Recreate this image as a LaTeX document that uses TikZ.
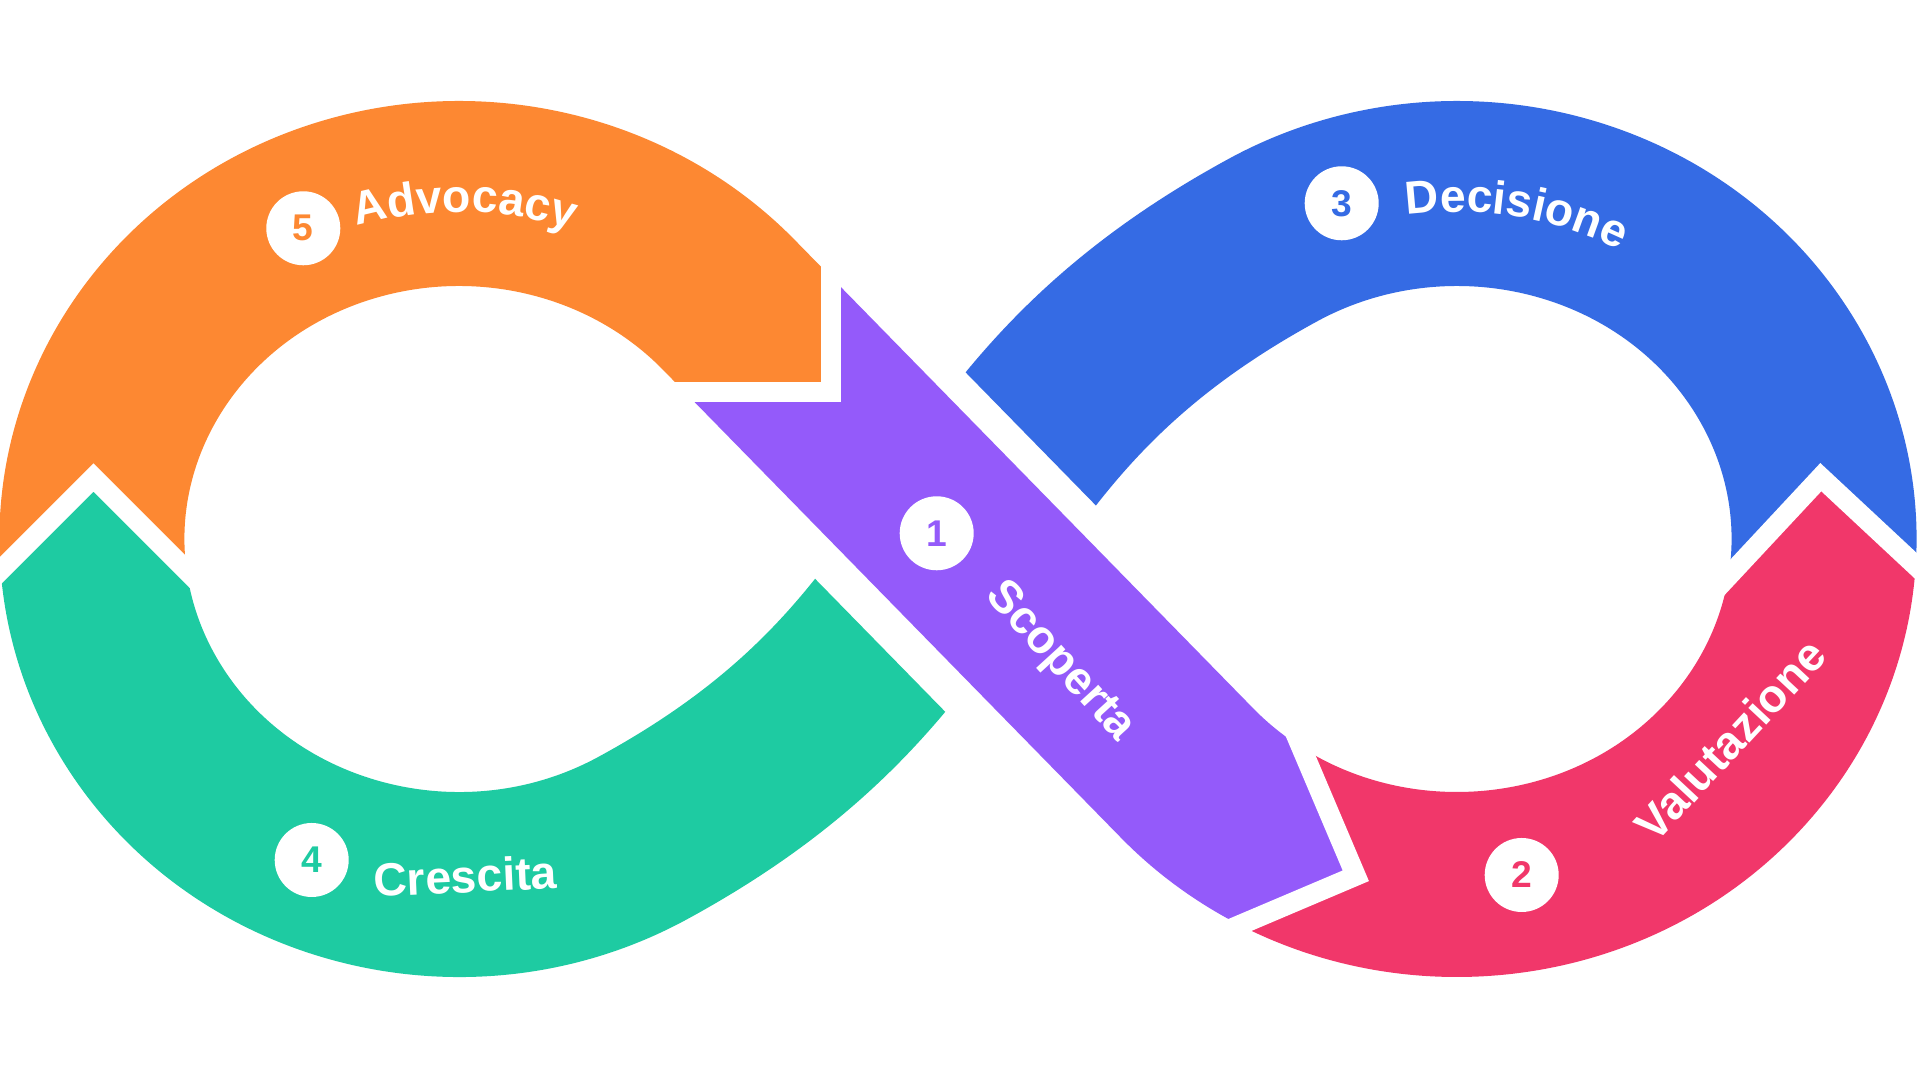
\documentclass[tikz,border=0pt]{standalone}
\usepackage{fontspec}
\setmainfont{Liberation Sans}
\usepackage{tikz}
\usetikzlibrary{calc}
\usetikzlibrary{decorations.text}
\definecolor{stageorange}{HTML}{FD8832}
\definecolor{stagepurple}{HTML}{945AFA}
\definecolor{stageblue}{HTML}{356BE4}
\definecolor{stagegreen}{HTML}{1ECBA2}
\definecolor{stagepink}{HTML}{F1376A}
\newcommand{\numfont}{\fontsize{9.3}{10}\selectfont\bfseries}
\newcommand{\stagefont}{\fontsize{11.6}{13}\selectfont\bfseries}
\tikzset{band/.style={line width=46.25pt}}
\tikzset{notch gap/.style={draw=white,line width=5pt}}
\tikzset{badge/.style={circle,fill=white,minimum size=18.5pt,inner sep=0pt,font=\numfont}}
\tikzset{stage label/.style={text=white,font=\stagefont,inner sep=0pt}}
% whole sheet, counter-clockwise
\newcommand{\canvas}{(-300,-300) -- (2220,-300) -- (2220,1380) -- (-300,1380) -- cycle}
% part behind a chevron (vertex #1, heading #2), clockwise
\newcommand{\behind}[2]{(#1) -- ($(#1)+({#2+225}:250)$) -- ($(#1)+({#2+180}:353.6)$) -- ($(#1)+({#2+135}:250)$) -- cycle}
% part ahead of a chevron, clockwise
\newcommand{\ahead}[2]{(#1) -- ($(#1)+({#2+135}:250)$) -- ($(#1)+({#2+135}:250)+(#2:400)$) -- ($(#1)+({#2+225}:250)+(#2:400)$) -- ($(#1)+({#2+225}:250)$) -- cycle}

\begin{document}
\begin{tikzpicture}
    [
      x=0.25pt, y=0.25pt,
      lobe/.style={x radius=367, y radius=345.5},
    ]
    \useasboundingbox (0,0) rectangle (1920,1080);
    \fill [white] (0,0) rectangle (1920,1080);

    % centres, joints and chevrons
    \coordinate (L) at (459,541);
    \coordinate (R) at (1457,541);
    \coordinate (T1) at ($(L)+(42.65:367 and 345.5)$);
    \coordinate (T2) at ($(R)+(222.65:367 and 345.5)$);
    \coordinate (RJ) at ($(R)+(120:367 and 345.5)$);
    \coordinate (LJ) at ($(L)+(300:367 and 345.5)$);
    \coordinate (J45) at (93.5,602.5);
    \coordinate (J51) at (831,687.5);
    \coordinate (J12) at (1355.8,204.2);
    \coordinate (J23) at (1820.8,602.8);
    \coordinate (Bcut) at ($(958,541)+(44.38:122)$);
    \coordinate (Gcut) at ($(958,541)+(224.38:130)$);

    % 5 advocacy
    \begin{scope}
      \clip \canvas \behind{J45}{90};
      \clip \canvas \ahead{J51}{-45};
      \draw [band,stageorange] ($(L)+(195:367 and 345.5)$) arc [start angle=195, end angle=42.65, lobe] -- ++(-45.62:300);
    \end{scope}

    % 1 scoperta
    \begin{scope}
      \clip \canvas \behind{J51}{-45};
      \clip \canvas \ahead{J12}{-22};
      \draw [band,stagepurple] (T1) -- (T2) arc [start angle=222.65, end angle=270, lobe];
    \end{scope}

    % 2 valutazione
    \begin{scope}
      \clip \canvas \behind{J12}{-22};
      \clip \canvas \ahead{J23}{92};
      \draw [band,stagepink] ($(R)+(230:367 and 345.5)$) arc [start angle=230, end angle=380, lobe];
    \end{scope}

    % 3 decisione
    \begin{scope}
      \clip \canvas \behind{J23}{92};
      \clip \canvas ($(Bcut)+(134.38:700)$) -- ($(Bcut)+(-45.62:700)$) |- (-300,-300) |- ($(Bcut)+(134.38:700)$) -- cycle;
      \draw [band,stageblue] ($(R)+(-15:367 and 345.5)$) arc [start angle=-15, end angle=120, lobe]
        .. controls ($(RJ)+(208.53:399)$) and ($(LJ)+(28.53:399)$) .. (LJ);
    \end{scope}

    % 4 crescita
    \begin{scope}
      \clip \canvas ($(Gcut)+(-45.62:700)$) -- ($(Gcut)+(134.38:700)$) |- (2220,1380) |- ($(Gcut)+(-45.62:700)$) -- cycle;
      \clip \canvas \ahead{J45}{90};
      \draw [band,stagegreen] (RJ) .. controls ($(RJ)+(208.53:399)$) and ($(LJ)+(28.53:399)$) .. (LJ)
        arc [start angle=300, end angle=160, lobe];
    \end{scope}

    % gaps between the stages
    \foreach \j/\a/\l in {J45/90/175, J51/-45/160, J12/-22/175, J23/92/175}
    {
      \draw [notch gap] ($(\j)+({\a+135}:\l)$) -- (\j) -- ($(\j)+({\a+225}:\l)$);
    }

    % badges
    \foreach \i/\x/\y/\c in {1/936.7/546.7/stagepurple, 2/1521.7/205/stagepink, 3/1341.7/876.7/stageblue, 4/311.7/220/stagegreen, 5/303.3/851.7/stageorange}
    {
      \node [badge,text=\c] (B\i) at (\x,\y) {\i};
    }

    % labels
    \path [decorate,decoration={text along path,text align=center,text color=white,text={|\stagefont|Advocacy}}]
      ($(L)+(130:349 and 327)$) arc [start angle=130, end angle=48, x radius=349, y radius=327];
    \path [decorate,decoration={text along path,text align=center,text color=white,text={|\stagefont|Decisione}}]
      ($(R)+(121:349 and 327)$) arc [start angle=121, end angle=39, x radius=349, y radius=327];
    \node [stage label,rotate=47,anchor=center] (valutazione) at (1730,340) {Valutazione};
    \node [stage label,rotate=2.5,anchor=base] (crescita) at (466,187.5) {Crescita};
    \node [stage label,rotate=-47.6,anchor=mid] (scoperta) at (1059.2,417.5) {Scoperta};

  \end{tikzpicture}
\end{document}
